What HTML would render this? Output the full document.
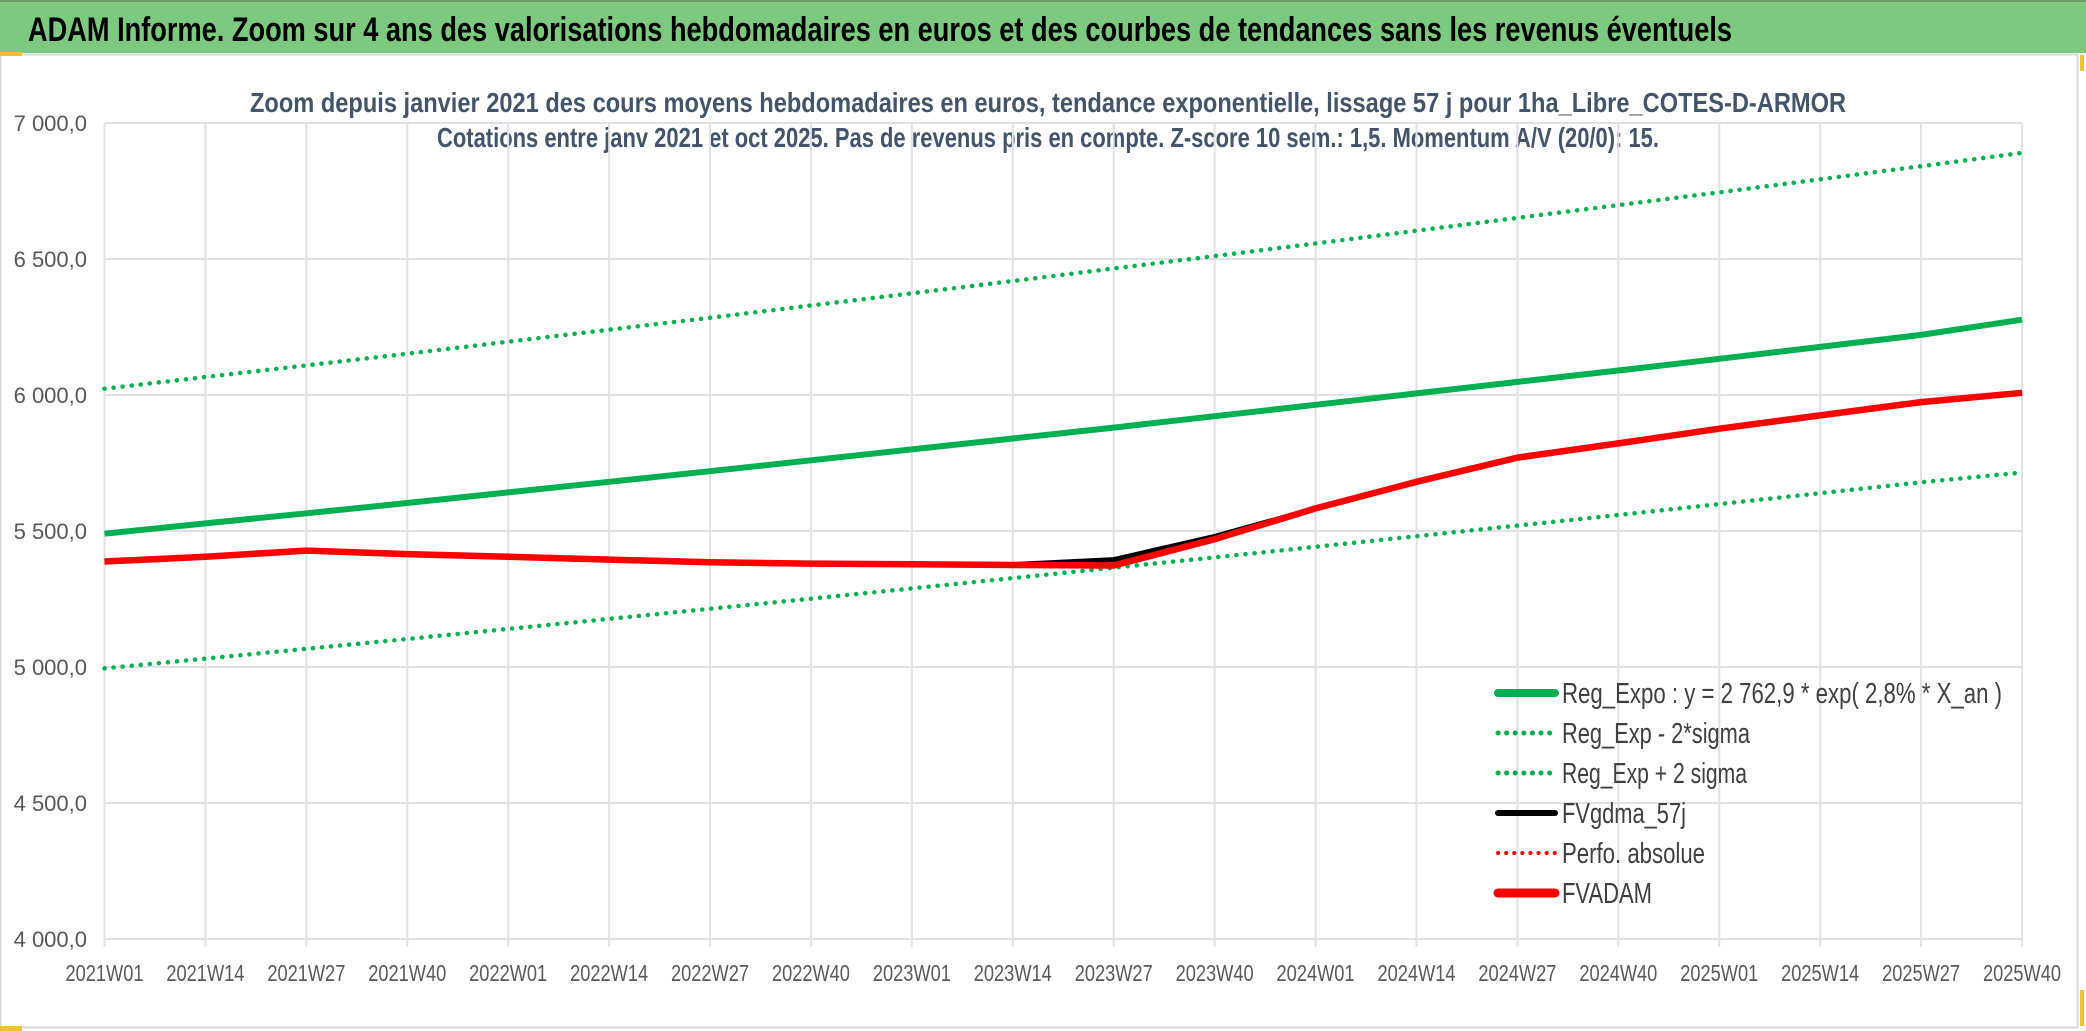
<!DOCTYPE html>
<html><head><meta charset="utf-8"><style>
html,body{margin:0;padding:0;background:#fff;}
svg{display:block;}
text{font-family:"Liberation Sans Narrow","Liberation Sans",sans-serif;}
</style></head><body>
<svg id="chart" width="2086" height="1031" viewBox="0 0 2086 1031" xmlns="http://www.w3.org/2000/svg">
<rect x="0" y="0" width="2086" height="53" fill="#7DC97F"/>
<rect x="0" y="0" width="2086" height="2" fill="#6a9a6a"/>
<text x="28" y="41" font-size="34" font-weight="bold" fill="#000" textLength="1704" lengthAdjust="spacingAndGlyphs">ADAM Informe. Zoom sur 4 ans des valorisations hebdomadaires en euros et des courbes de tendances sans les revenus éventuels</text>
<rect x="0.5" y="54.5" width="2077" height="973" fill="none" stroke="#D9D9D9" stroke-width="2"/>
<rect x="0" y="52" width="22" height="4" fill="#F2C12E"/>
<rect x="0" y="1026" width="22" height="5" fill="#F2C12E"/>
<rect x="2080" y="55" width="4" height="16" fill="#F2C12E"/>
<rect x="2080" y="990" width="4" height="36" fill="#F2C12E"/>
<text x="1048" y="112" font-size="28" font-weight="bold" fill="#44546A" text-anchor="middle" textLength="1596" lengthAdjust="spacingAndGlyphs">Zoom depuis janvier 2021 des cours moyens hebdomadaires en euros, tendance exponentielle, lissage 57 j pour 1ha_Libre_COTES-D-ARMOR</text>
<text x="1048" y="147" font-size="28" font-weight="bold" fill="#44546A" text-anchor="middle" textLength="1222" lengthAdjust="spacingAndGlyphs">Cotations entre janv 2021 et oct 2025. Pas de revenus pris en compte. Z-score 10 sem.: 1,5. Momentum A/V (20/0): 15.</text>
<g id="grid"></g>
<g id="axes"></g>
<g id="series"></g>
<g id="legend"></g>
</svg>
<script>
const xLabels = ["2021W01","2021W14","2021W27","2021W40","2022W01","2022W14","2022W27","2022W40","2023W01","2023W14","2023W27","2023W40","2024W01","2024W14","2024W27","2024W40","2025W01","2025W14","2025W27","2025W40"];
const yTicks = [4000,4500,5000,5500,6000,6500,7000];
const yTickLabels = ["4 000,0","4 500,0","5 000,0","5 500,0","6 000,0","6 500,0","7 000,0"];
const regExpo = [5490,5528,5565,5603,5642,5681,5720,5760,5800,5840,5880,5922,5964,6006,6048,6090,6133,6177,6221,6277];
const regPlus = [6023,6066,6109,6152,6196,6240,6284,6329,6374,6419,6465,6511,6557,6604,6651,6698,6745,6793,6841,6890];
const regMinus = [4995,5031,5067,5103,5140,5177,5214,5251,5289,5327,5365,5403,5442,5481,5520,5559,5599,5639,5679,5715];
const fvgdma = [5388,5405,5428,5415,5405,5395,5385,5380,5378,5377,5395,5480,5583,5681,5768,5822,5876,5925,5974,6008];
const fvadam = [5388,5405,5428,5415,5405,5395,5385,5380,5378,5375,5373,5470,5583,5681,5770,5822,5876,5925,5974,6008];

const NS="http://www.w3.org/2000/svg";
const X0=104.5, X1=2022, Y0=939, Y1=123, VMIN=4000, VMAX=7000;
function xs(i){return X0+(X1-X0)*i/(xLabels.length-1);}
function ys(v){return Y0-(Y0-Y1)*(v-VMIN)/(VMAX-VMIN);}
function mk(tag,attrs,parent){const e=document.createElementNS(NS,tag);for(const k in attrs)e.setAttribute(k,attrs[k]);parent.appendChild(e);return e;}
const grid=document.getElementById('grid'),axes=document.getElementById('axes'),series=document.getElementById('series'),legend=document.getElementById('legend');

yTicks.forEach((v,i)=>{
  const l=mk('line',{x1:X0,x2:X1,y1:ys(v),y2:ys(v),stroke:'#E1E1E8','stroke-width':2},grid);
  
  
  const t=mk('text',{x:87,y:ys(v)+8,'font-size':22,fill:'#595959','text-anchor':'end'},axes);
  t.textContent=yTickLabels[i];
  
  
});
xLabels.forEach((lab,i)=>{
  const l=mk('line',{x1:xs(i),x2:xs(i),y1:Y1,y2:Y0+8,stroke:'#E1E1E8','stroke-width':2},grid);
  
  
  const t=mk('text',{x:xs(i),y:981,'font-size':23,fill:'#595959','text-anchor':'middle',textLength:78,lengthAdjust:'spacingAndGlyphs'},axes);
  t.textContent=lab;
  
  
});
function pts(arr){return arr.map((v,i)=>xs(i).toFixed(1)+','+ys(v).toFixed(1)).join(' ');}
function draw(arr,stroke,w,dash,name){
  const p=mk('polyline',{points:pts(arr),fill:'none',stroke:stroke,'stroke-width':w,'stroke-linejoin':'round','stroke-linecap':dash?'round':'butt'},series);
  if(dash)p.setAttribute('stroke-dasharray',dash);
  
  
}
draw(regPlus,'#00B050',4.5,'0.1 9','series-reg-exp-plus-2sigma');
draw(regMinus,'#00B050',4.5,'0.1 9','series-reg-exp-minus-2sigma');
draw(regExpo,'#00B050',6,null,'series-reg-expo');
draw(fvgdma,'#000000',5,null,'series-fvgdma-57j');
draw(fvadam,'#FF0000',6.5,null,'series-fvadam');

const legendItems=[
 ["Reg_Expo : y = 2 762,9 * exp( 2,8% *  X_an )",'#00B050',8,null,440],
 ["Reg_Exp - 2*sigma",'#00B050',5,'0.1 8.5',188],
 ["Reg_Exp + 2 sigma",'#00B050',5,'0.1 8.5',185],
 ["FVgdma_57j",'#000000',6,null,124],
 ["Perfo. absolue",'#FF0000',4,'0.1 8',143],
 ["FVADAM",'#FF0000',9,null,90]
];
legendItems.forEach((it,i)=>{
  const y=693+40*i;
  const l=mk('line',{x1:1498,x2:1555,y1:y,y2:y,stroke:it[1],'stroke-width':it[2],'stroke-linecap':'round'},legend);
  if(it[3])l.setAttribute('stroke-dasharray',it[3]);
  
  
  const t=mk('text',{x:1562,y:y+10,'font-size':29,fill:'#404040',textLength:it[4],lengthAdjust:'spacingAndGlyphs'},legend);
  t.textContent=it[0];
  
  
});
</script>
</body></html>
